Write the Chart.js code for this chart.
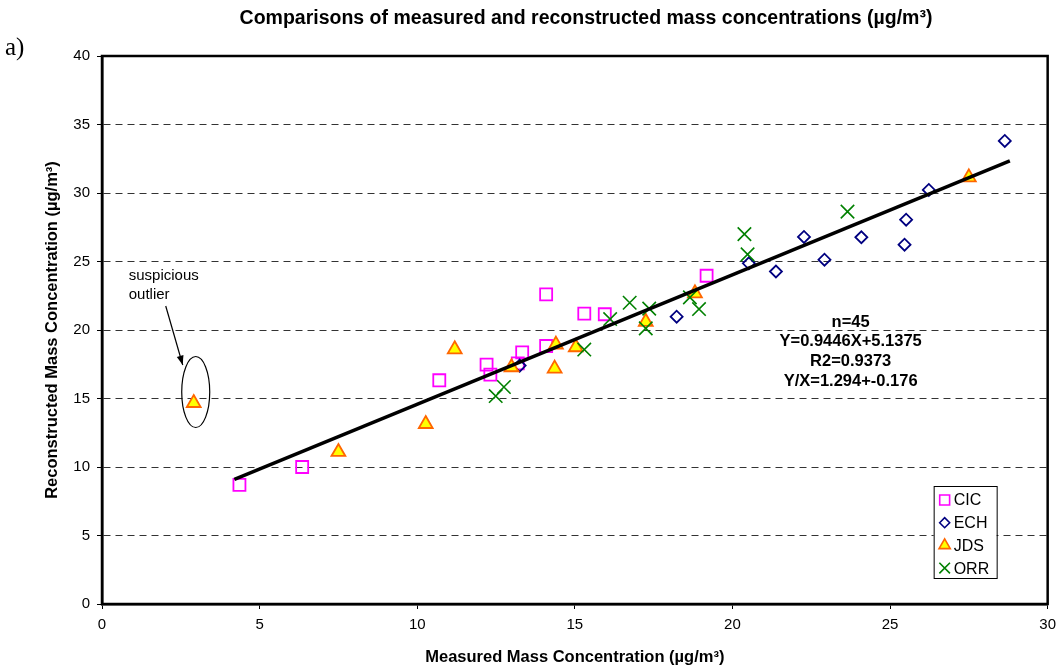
<!DOCTYPE html>
<html>
<head>
<meta charset="utf-8">
<title>Measured vs reconstructed mass</title>
<script src="https://cdn.jsdelivr.net/npm/chart.js@4.4.1/dist/chart.umd.min.js"></script>
<style>
  html, body { margin: 0; padding: 0; background: #fff; }
  #wrap { position: relative; width: 1063px; height: 668px; }
</style>
</head>
<body>
<div id="wrap"><canvas id="chartMass"></canvas></div>
<script>
// measured (x) vs reconstructed (y) mass, one pair of arrays per site
const cicX = [4.36, 6.35, 10.7, 12.2, 12.32, 13.19, 13.33, 14.09, 14.09, 15.3, 15.95, 19.18];
const cicY = [8.7, 10.0, 16.33, 17.47, 16.74, 17.57, 18.37, 18.83, 22.6, 21.2, 21.15, 23.96];

const echX = [13.25, 18.23, 20.52, 21.38, 22.27, 22.92, 24.09, 25.46, 25.51, 26.23, 28.64];
const echY = [17.4, 20.97, 24.87, 24.27, 26.79, 25.13, 26.77, 26.23, 28.05, 30.22, 33.8];

const jdsX = [2.91, 7.5, 10.27, 11.19, 12.99, 14.36, 14.4, 15.03, 17.25, 18.81, 27.5];
const jdsY = [14.67, 11.1, 13.14, 18.59, 17.28, 17.18, 18.93, 18.74, 20.6, 22.68, 31.14];

const orrX = [12.49, 12.75, 15.3, 16.12, 16.74, 17.25, 17.36, 18.65, 18.94, 20.38, 20.48, 23.65];
const orrY = [15.18, 15.84, 18.57, 20.8, 21.99, 20.12, 21.56, 22.38, 21.53, 27.0, 25.52, 28.64];

// regression line
const fitSlope = 0.9446;
const fitIntercept = 5.1375;
const fitRange = [4.2, 28.8];

const statsLines = ['n=45', 'Y=0.9446X+5.1375', 'R2=0.9373', 'Y/X=1.294+-0.176'];
const xTicks = [0, 5, 10, 15, 20, 25, 30];
const yTicks = [0, 5, 10, 15, 20, 25, 30, 35, 40];

const FONT = "'Liberation Sans', Arial, Helvetica, sans-serif";

const pairs = (xs, ys) => xs.map((x, i) => ({ x, y: ys[i] }));

const datasets = [
  {
    label: 'CIC', data: pairs(cicX, cicY), pointStyle: 'rect', pointRadius: 8.5,
    borderColor: '#FF00FF', backgroundColor: 'rgba(0,0,0,0)', pointBorderWidth: 1.8, order: 4
  },
  {
    label: 'ECH', data: pairs(echX, echY), pointStyle: 'rectRot', pointRadius: 6,
    borderColor: '#000080', backgroundColor: 'rgba(0,0,0,0)', pointBorderWidth: 1.8, order: 3
  },
  {
    label: 'JDS', data: pairs(jdsX, jdsY), pointStyle: 'triangle', pointRadius: 8,
    borderColor: '#FF6600', backgroundColor: '#FFFF00', pointBorderWidth: 1.8, order: 2
  },
  {
    label: 'ORR', data: pairs(orrX, orrY), pointStyle: 'crossRot', pointRadius: 9.5,
    borderColor: '#008000', backgroundColor: '#008000', pointBorderWidth: 1.6, order: 1
  },
  {
    type: 'line', label: 'fit',
    data: fitRange.map(x => ({ x, y: fitSlope * x + fitIntercept })),
    borderColor: '#000', borderWidth: 3.5, pointRadius: 0, fill: false, order: 0
  }
];

// title, frame, outlier note, fit statistics and legend box
const decorations = {
  id: 'decorations',
  afterDraw(chart) {
    const { ctx, chartArea: a, scales: { x, y } } = chart;
    ctx.save();

    // plot frame
    ctx.strokeStyle = '#000';
    ctx.lineWidth = 2.5;
    ctx.strokeRect(a.left, a.top, a.right - a.left, a.bottom - a.top);

    // title and panel letter
    ctx.fillStyle = '#000';
    ctx.textAlign = 'center';
    ctx.textBaseline = 'middle';
    ctx.font = `bold 19.5px ${FONT}`;
    ctx.fillText('Comparisons of measured and reconstructed mass concentrations (µg/m³)', 586, 19);
    ctx.textAlign = 'left';
    ctx.font = "25px 'Liberation Serif', 'Times New Roman', serif";
    ctx.fillText('a)', 5, 48);

    // outlier note
    const ox = x.getPixelForValue(jdsX[0]);
    const oy = y.getPixelForValue(jdsY[0]);
    ctx.lineWidth = 1.2;
    ctx.beginPath();
    ctx.ellipse(ox + 2, oy - 11, 14, 35.5, 0, 0, Math.PI * 2);
    ctx.stroke();

    const ax0 = ox - 28, ay0 = oy - 97, ax1 = ox - 11, ay1 = oy - 38;
    ctx.beginPath();
    ctx.moveTo(ax0, ay0);
    ctx.lineTo(ax1, ay1);
    ctx.stroke();
    const ang = Math.atan2(ay1 - ay0, ax1 - ax0);
    ctx.beginPath();
    ctx.moveTo(ax1, ay1);
    ctx.lineTo(ax1 - 10 * Math.cos(ang - 0.35), ay1 - 10 * Math.sin(ang - 0.35));
    ctx.lineTo(ax1 - 10 * Math.cos(ang + 0.35), ay1 - 10 * Math.sin(ang + 0.35));
    ctx.closePath();
    ctx.fill();

    ctx.font = `15px ${FONT}`;
    ctx.textAlign = 'left';
    ctx.fillText('suspicious', ox - 65, oy - 127);
    ctx.fillText('outlier', ox - 65, oy - 108);

    // fit statistics
    ctx.font = `bold 16.5px ${FONT}`;
    ctx.textAlign = 'center';
    const sx = x.getPixelForValue(23.75);
    const sy = y.getPixelForValue(20.58);
    statsLines.forEach((t, i) => ctx.fillText(t, sx, sy + i * 19.7));

    // legend box
    const bx = a.right - 114, by = a.bottom - 118, bw = 63, bh = 92;
    ctx.fillStyle = '#fff';
    ctx.fillRect(bx, by, bw, bh);
    ctx.strokeStyle = '#000';
    ctx.lineWidth = 1;
    ctx.strokeRect(bx + 0.5, by + 0.5, bw, bh);
    const legendRadius = { rect: 7, rectRot: 5, triangle: 6.5, crossRot: 7.5 };
    ctx.font = `16px ${FONT}`;
    ctx.textAlign = 'left';
    datasets.slice(0, 4).forEach((ds, i) => {
      const ly = by + 14 + i * 22.7;
      ctx.save();
      ctx.strokeStyle = ds.borderColor;
      ctx.fillStyle = ds.backgroundColor;
      ctx.lineWidth = 1.6;
      Chart.helpers.drawPoint(ctx, { pointStyle: ds.pointStyle, radius: legendRadius[ds.pointStyle], borderWidth: 1.6, rotation: 0 }, bx + 11, ly);
      ctx.restore();
      ctx.fillStyle = '#000';
      ctx.fillText(ds.label, bx + 20, ly + 1);
    });

    ctx.restore();
  }
};

new Chart(document.getElementById('chartMass'), {
  type: 'scatter',
  data: { datasets },
  options: {
    responsive: true,
    maintainAspectRatio: false,
    animation: false,
    layout: { padding: { top: 56, right: 10, left: 0, bottom: 0 } },
    plugins: {
      legend: { display: false },
      tooltip: { enabled: false },
      title: { display: false }
    },
    scales: {
      x: {
        type: 'linear', min: 0, max: 30,
        afterFit: s => { s.height = 64; },
        afterBuildTicks: s => { s.ticks = xTicks.map(v => ({ value: v })); },
        ticks: { color: '#000', font: { family: FONT, size: 15 }, padding: 7, maxRotation: 0 },
        grid: { drawOnChartArea: false, drawTicks: true, tickLength: 5, tickColor: '#000', tickWidth: 1 },
        border: { display: true, color: '#000', width: 2.5 },
        title: {
          display: true, text: 'Measured Mass Concentration (µg/m³)', color: '#000',
          font: { family: FONT, size: 16.5, weight: 'bold' }, padding: { top: 0, bottom: 1 }
        }
      },
      y: {
        type: 'linear', min: 0, max: 40,
        afterFit: s => { s.width = 102; },
        afterBuildTicks: s => { s.ticks = yTicks.map(v => ({ value: v })); },
        ticks: { color: '#000', font: { family: FONT, size: 15 }, padding: 7 },
        grid: {
          drawOnChartArea: true, color: '#333', lineWidth: 1,
          drawTicks: true, tickLength: 5, tickColor: '#000', tickWidth: 1, tickBorderDash: []
        },
        border: { display: true, color: '#000', width: 2.5, dash: [7, 5] },
        title: {
          display: true, text: 'Reconstructed Mass Concentration (µg/m³)', color: '#000',
          font: { family: FONT, size: 16.5, weight: 'bold' }, padding: { top: 43, bottom: 0 }
        }
      }
    }
  },
  plugins: [decorations]
});
</script>
</body>
</html>
